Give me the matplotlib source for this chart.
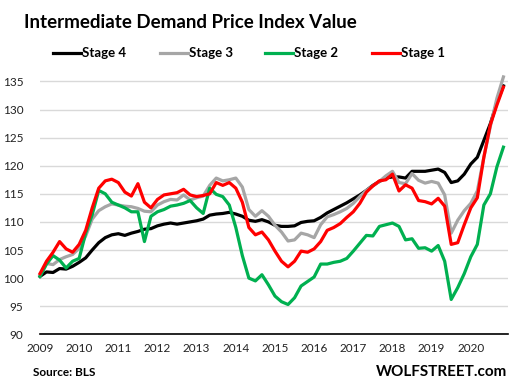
import numpy as np
import matplotlib
matplotlib.use("Agg")
import matplotlib.pyplot as plt
from matplotlib.lines import Line2D

# two-monthly readings, Jan 2009 .. Nov 2020
t = 2009 + np.arange(72) / 6.0

stage4 = [100.3, 101.1, 101.0, 101.7, 101.6, 102.1, 102.8, 103.6, 105.0, 106.3,
          107.2, 107.7, 107.9, 107.6, 108.0, 108.3, 108.7, 108.8, 109.3, 109.6,
          109.8, 109.6, 109.8, 110.0, 110.2, 110.5, 111.2, 111.4, 111.5, 111.7,
          111.4, 111.0, 110.3, 110.1, 110.4, 110.0, 109.4, 109.2, 109.2, 109.3,
          109.9, 110.1, 110.2, 110.8, 111.6, 112.2, 112.8, 113.4, 114.1, 114.8,
          115.6, 116.5, 117.2, 117.8, 118.0, 118.0, 117.8, 119.0, 119.0, 119.0,
          119.2, 119.4, 118.8, 117.0, 117.3, 118.5, 120.3, 121.5, 124.5, 127.5,
          131.2, 134.2]

stage3 = [100.5, 102.6, 102.4, 103.3, 103.8, 104.2, 105.3, 107.5, 110.5, 112.0,
          112.7, 113.2, 113.0, 112.8, 112.7, 112.4, 111.9, 111.8, 113.0, 113.6,
          114.0, 113.9, 114.8, 113.9, 114.3, 114.6, 116.5, 117.8, 117.3, 117.5,
          117.8, 116.2, 112.2, 111.0, 112.0, 111.0, 109.4, 108.2, 106.6, 106.8,
          108.0, 107.7, 107.2, 109.5, 110.9, 111.3, 111.8, 112.4, 113.3, 114.5,
          115.6, 116.4, 117.2, 118.2, 119.0, 117.0, 116.8, 118.6, 117.4, 116.9,
          117.2, 116.9, 114.8, 108.0, 110.3, 112.0, 113.3, 115.5, 121.5, 127.0,
          132.0, 135.8]

stage2 = [100.3, 102.5, 104.0, 103.2, 101.8, 103.0, 103.5, 108.0, 111.3, 115.6,
          115.0, 113.5, 113.0, 112.5, 111.8, 111.8, 106.5, 111.0, 111.8, 112.2,
          112.8, 113.0, 113.3, 113.8, 112.5, 111.5, 116.0, 114.9, 114.5, 113.0,
          109.0, 104.0, 100.0, 99.5, 100.6, 98.8, 96.8, 95.8, 95.3, 96.5,
          98.6, 99.4, 100.2, 102.5, 102.5, 102.8, 103.0, 103.5, 104.8, 106.2,
          107.6, 107.5, 109.2, 109.5, 109.8, 109.2, 106.8, 107.0, 105.3, 105.4,
          104.8, 105.8, 103.0, 96.2, 98.3, 100.8, 103.8, 106.0, 113.0, 115.0,
          119.8, 123.3]

stage1 = [100.8, 103.0, 104.6, 106.5, 105.2, 104.6, 106.0, 108.5, 112.5, 116.0,
          117.3, 117.6, 117.0, 115.3, 114.6, 116.8, 113.5, 112.5, 114.0, 114.8,
          115.0, 115.2, 115.8, 114.8, 114.5, 114.7, 115.0, 117.0, 116.5, 117.0,
          116.0, 113.5, 109.0, 107.7, 108.2, 106.8, 104.8, 103.0, 102.0, 103.0,
          104.8, 104.6, 105.2, 106.5, 108.5, 109.0, 109.7, 110.8, 111.8, 113.3,
          115.3, 116.4, 117.3, 117.5, 118.5, 115.5, 116.6, 116.0, 113.8, 113.6,
          113.2, 114.2, 112.8, 106.0, 106.3, 109.5, 112.5, 114.3, 121.5, 127.3,
          130.8, 134.0]

labels = ['Stage 4', 'Stage 3', 'Stage 2', 'Stage 1']
colors = ['#000000', '#a6a6a6', '#00b050', '#ff0000']
series = [stage4, stage3, stage2, stage1]
years = list(range(2009, 2021))

plt.rcParams['font.family'] = ['Lato', 'DejaVu Sans']

W, H = 510, 389
fig = plt.figure(figsize=(W / 100, H / 100), dpi=100)
ax = fig.add_axes([40 / W, (H - 334.3) / H, 468 / W, 48 * 5.62 / H])

for y, c, lab in zip(series, colors, labels):
    ax.plot(t, y, color=c, lw=2.3, label=lab, solid_joinstyle='round', clip_on=False)

ax.set_xlim(2009, 2020.95)
ax.set_ylim(90, 138)
ax.set_yticks(range(90, 140, 5))
ax.set_xticks(years)
ax.grid(axis='y', color='#d9d9d9', lw=1)
ax.set_axisbelow(True)
for s in ['top', 'right', 'left']:
    ax.spines[s].set_visible(False)
ax.spines['bottom'].set_color('black')
ax.spines['bottom'].set_linewidth(1.2)
ax.tick_params(axis='both', length=0, labelsize=8.5, colors='#222222')
ax.tick_params(axis='y', pad=12)
ax.tick_params(axis='x', pad=6)

fig.text(24 / W, 1 - 22 / H, 'Intermediate Demand Price Index Value', fontsize=13.5,
         fontweight='bold', va='center', ha='left')

# legend row
leg_x = [53, 160, 265, 372]
for x0, c, lab in zip(leg_x, colors, labels):
    fig.add_artist(Line2D([x0 / W, (x0 + 28) / W], [1 - 53 / H, 1 - 53 / H],
                          color=c, lw=2.3, transform=fig.transFigure))
    fig.text((x0 + 29) / W, 1 - 53 / H, lab, fontsize=9.5, fontweight='bold',
             va='center', ha='left')

fig.text(33 / W, 1 - 372 / H, 'Source: BLS', fontsize=8.5, fontweight='bold',
         va='center', ha='left')
fig.text(507 / W, 1 - 372 / H, 'WOLFSTREET.com', fontsize=11, fontweight='bold',
         va='center', ha='right')

fig.savefig('out.png', dpi=100)
